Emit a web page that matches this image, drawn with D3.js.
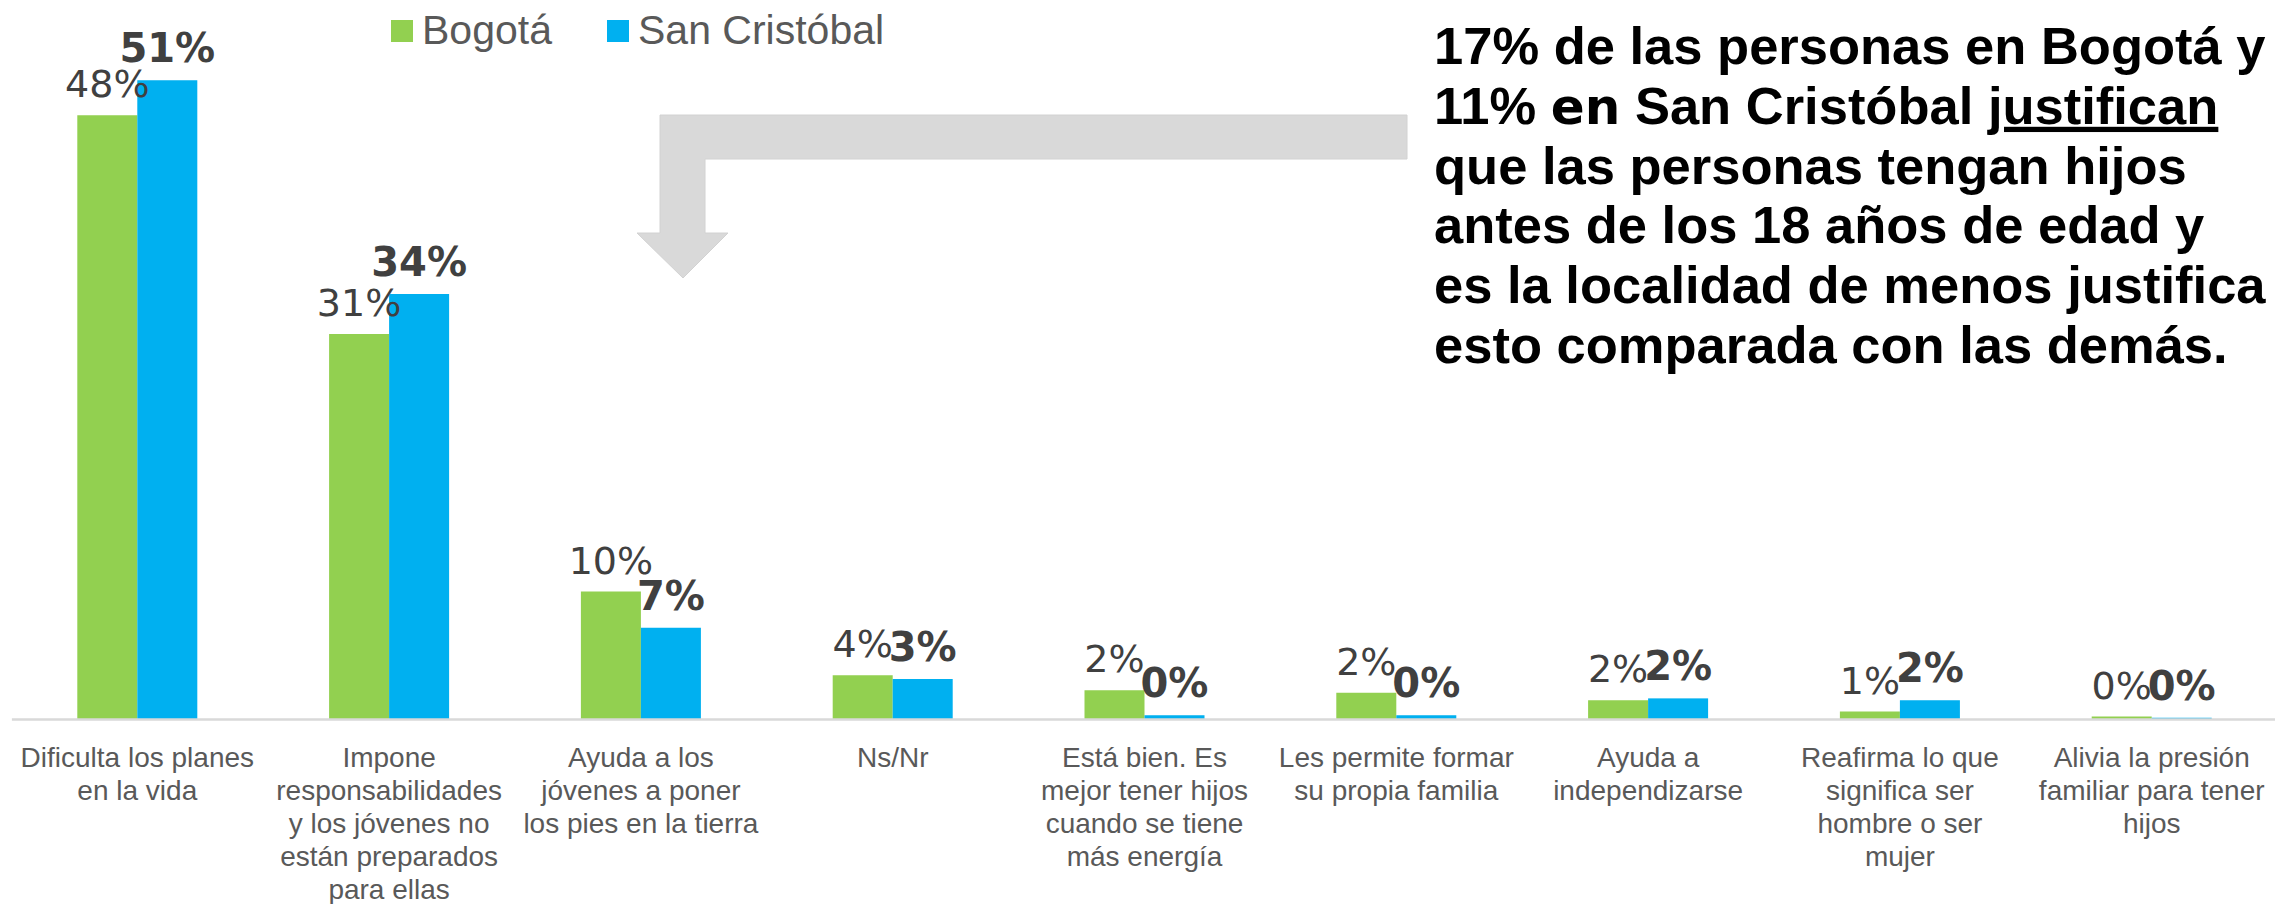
<!DOCTYPE html>
<html>
<head>
<meta charset="utf-8">
<script src="https://cdn.jsdelivr.net/npm/d3@7/dist/d3.min.js"></script>
<style>
  html, body { margin: 0; padding: 0; background: #ffffff; }
  svg { display: block; }
</style>
</head>
<body>
<div id="chart"></div>
<script>
// ---- Data ----
const categories = [
  "Dificulta los planes en la vida",
  "Impone responsabilidades y los jóvenes no están preparados para ellas",
  "Ayuda a los jóvenes a poner los pies en la tierra",
  "Ns/Nr",
  "Está bien. Es mejor tener hijos cuando se tiene más energía",
  "Les permite formar su propia familia",
  "Ayuda a independizarse",
  "Reafirma lo que significa ser hombre o ser mujer",
  "Alivia la presión familiar para tener hijos"
];
const categoryLines = [
  ["Dificulta los planes", "en la vida"],
  ["Impone", "responsabilidades", "y los jóvenes no", "están preparados", "para ellas"],
  ["Ayuda a los", "jóvenes a poner", "los pies en la tierra"],
  ["Ns/Nr"],
  ["Está bien. Es", "mejor tener hijos", "cuando se tiene", "más energía"],
  ["Les permite formar", "su propia familia"],
  ["Ayuda a", "independizarse"],
  ["Reafirma lo que", "significa ser", "hombre o ser", "mujer"],
  ["Alivia la presión", "familiar para tener", "hijos"]
];
const seriesNames = ["Bogotá", "San Cristóbal"];
const bogota       = [48.3, 30.8, 10.2, 3.5, 2.3, 2.1, 1.5, 0.6, 0.2];
const sanCristobal = [51.1, 34.0, 7.3, 3.2, 0.3, 0.3, 1.65, 1.5, 0.1];
const seriesColors = ["#92D050", "#00B0F0"];
const noteLines = [
  [{t: "17% de las personas en Bogotá y"}],
  [{t: "11% "}, {t: "en", alt: true}, {t: " San Cristóbal "}, {t: "justifican", u: true}],
  [{t: "que las personas tengan hijos"}],
  [{t: "antes de los 18 años de edad y"}],
  [{t: "es la localidad de menos justifica"}],
  [{t: "esto comparada con las demás."}]
];

// ---- Layout ----
const W = 2275, H = 904;
const baseY = 719;
const svg = d3.select("#chart").append("svg")
  .attr("width", W).attr("height", H)
  .attr("viewBox", `0 0 ${W} ${H}`);

const x0 = d3.scaleBand()
  .domain(categories)
  .range([11.4, 2277.6])
  .paddingInner(0.5234)
  .paddingOuter(0.2617);
const x1 = d3.scaleBand()
  .domain(seriesNames)
  .range([0, x0.bandwidth()]);
const y = d3.scaleLinear().domain([0, 50]).range([baseY, baseY - 625]);

const rows = categories.map((c, i) => ({
  cat: c,
  vals: [
    {s: seriesNames[0], v: bogota[i], idx: 0},
    {s: seriesNames[1], v: sanCristobal[i], idx: 1}
  ]
}));

// Arrow annotation (decorative shape)
svg.append("path")
  .attr("d", "M1407,115 L660,115 L660,233 L637,233 L683,278 L728,233 L705,233 L705,159 L1407,159 Z")
  .attr("fill", "#D9D9D9")
  .attr("stroke", "#D2D2D2")
  .attr("stroke-width", 1);

// Bars
const groups = svg.append("g").selectAll("g.grp")
  .data(rows).join("g")
  .attr("class", "grp")
  .attr("transform", d => `translate(${x0(d.cat)},0)`);

groups.selectAll("rect")
  .data(d => d.vals).join("rect")
  .attr("x", d => x1(d.s))
  .attr("width", x1.bandwidth())
  .attr("y", d => y(d.v))
  .attr("height", d => y(0) - y(d.v))
  .attr("fill", d => seriesColors[d.idx]);

// Axis
const axis = svg.append("g")
  .attr("transform", `translate(0,${baseY})`)
  .call(d3.axisBottom(x0).tickSize(0).tickSizeOuter(0));
axis.select(".domain").attr("stroke", "#D9D9D9").attr("stroke-width", 2.5);
axis.selectAll(".tick text").each(function(d, i) {
  const t = d3.select(this);
  t.text(null)
    .attr("y", 48).attr("dy", null)
    .attr("fill", "#595959")
    .style("font-family", "'Liberation Sans', Arial, sans-serif")
    .style("font-size", "28px");
  categoryLines[i].forEach((ln, k) => {
    t.append("tspan").attr("x", 0).attr("dy", k === 0 ? 0 : 33).text(ln);
  });
});

// Data labels: Bogotá first (regular), then San Cristóbal (bold) on top
[0, 1].forEach(si => {
  svg.append("g").selectAll("text")
    .data(rows).join("text")
    .attr("x", d => x0(d.cat) + x1(seriesNames[si]) + x1.bandwidth() / 2)
    .attr("y", d => y(d.vals[si].v) - 18)
    .attr("text-anchor", "middle")
    .attr("fill", "#404040")
    .style("font-family", "'DejaVu Sans', Verdana, sans-serif")
    .style("font-size", si === 0 ? "38px" : "40px")
    .style("font-weight", si === 0 ? "normal" : "bold")
    .text(d => Math.round(d.vals[si].v) + "%");
});

// Legend
const legend = svg.append("g");
const legX = [391, 607];
seriesNames.forEach((s, i) => {
  legend.append("rect")
    .attr("x", legX[i]).attr("y", 20)
    .attr("width", 22).attr("height", 22)
    .attr("fill", seriesColors[i]);
  legend.append("text")
    .attr("x", legX[i] + 31).attr("y", 44)
    .attr("fill", "#595959")
    .style("font-family", "'Liberation Sans', Arial, sans-serif")
    .style("font-size", "41px")
    .text(s);
});

// Note text block
const note = svg.append("g");
noteLines.forEach((parts, li) => {
  const t = note.append("text")
    .attr("x", 1434).attr("y", 64 + li * 59.8)
    .attr("fill", "#000000")
    .style("font-family", "'Liberation Sans', Arial, sans-serif")
    .style("font-size", "52.5px")
    .style("font-weight", "bold");
  parts.forEach(p => {
    const ts = t.append("tspan").text(p.t);
    if (p.alt) ts.style("font-family", "'DejaVu Sans', Verdana, sans-serif").style("font-size", "50px");
    if (p.u) ts.style("text-decoration", "underline");
  });
});
</script>
</body>
</html>
